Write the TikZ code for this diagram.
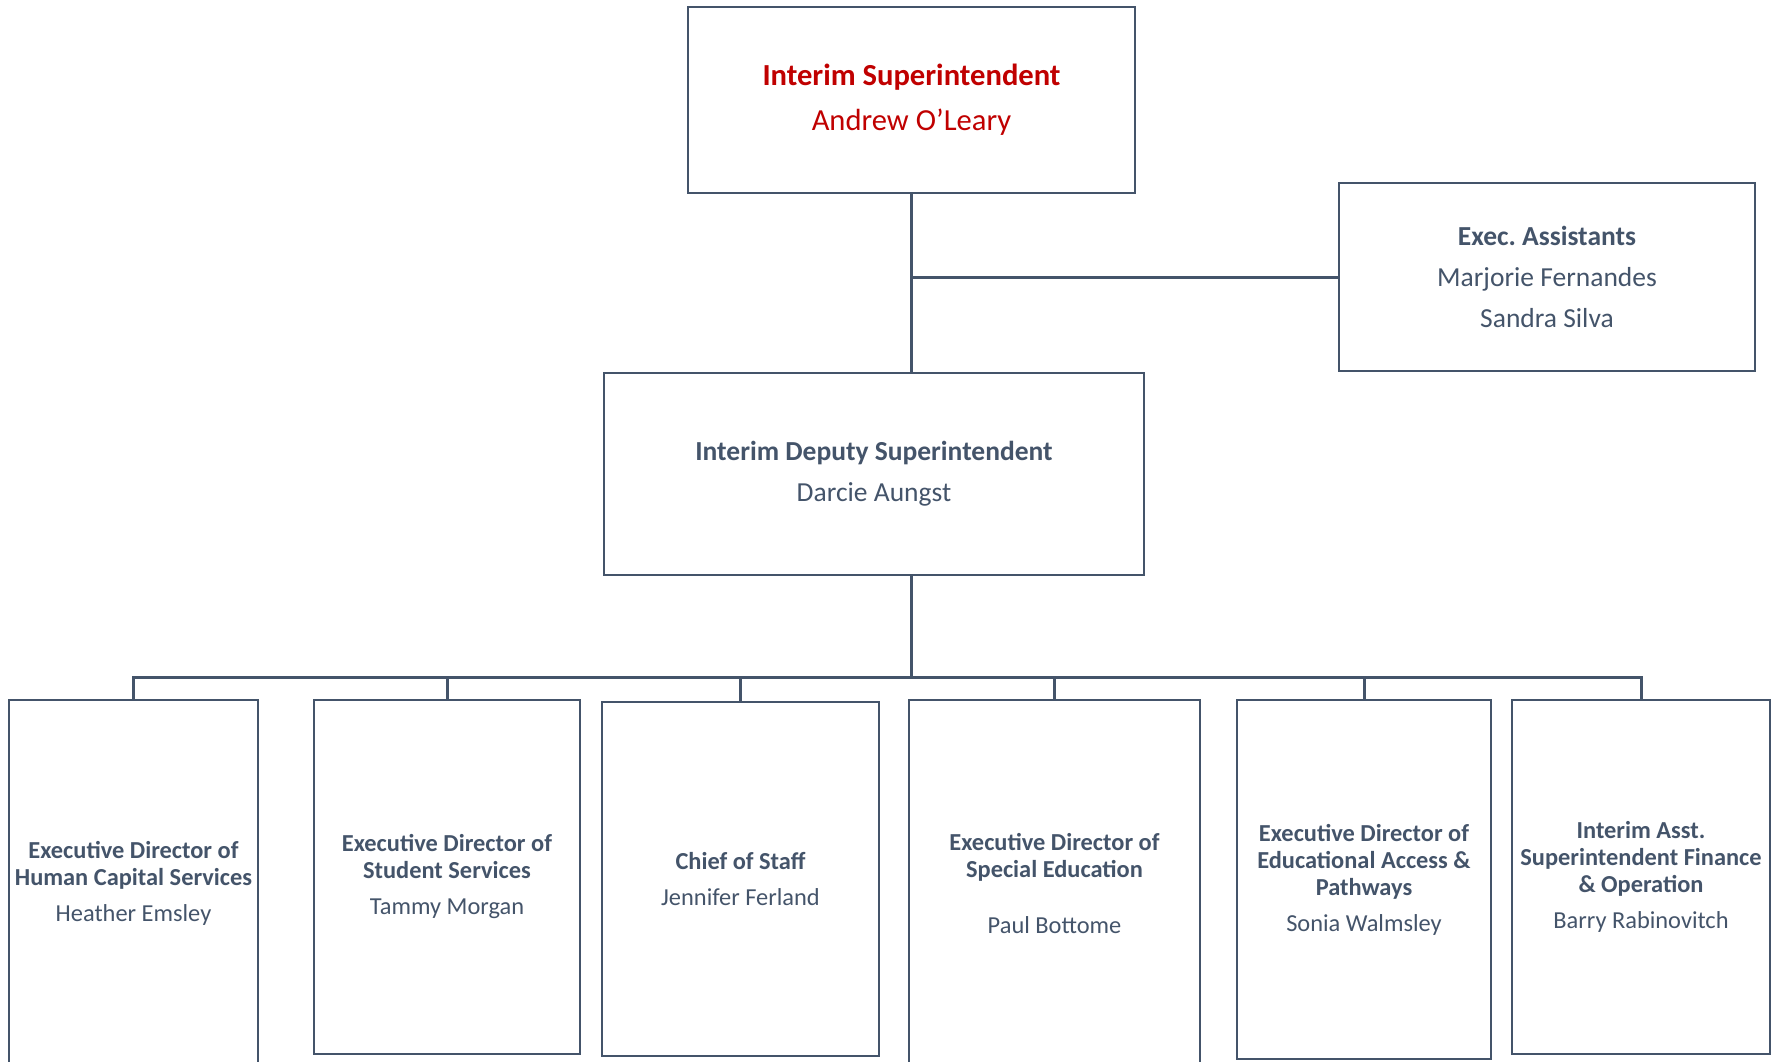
\documentclass[tikz,border=0pt]{standalone}
\usepackage{fontspec}
\setmainfont{Carlito}
\frenchspacing
\usetikzlibrary{positioning}
\definecolor{slate}{HTML}{44546A}
\definecolor{crimson}{HTML}{C00000}
\tikzstyle{unit} = [rectangle, draw=slate, line width=2.8pt, fill=white,
text=slate, align=center, inner sep=0pt, font=\fontsize{24.4}{27}\selectfont]
\tikzstyle{chief} = [unit, text=crimson, font=\fontsize{30.6}{45}\selectfont]
\tikzstyle{aide} = [unit, font=\fontsize{27.5}{41}\selectfont]
\tikzstyle{link} = [draw=slate, line width=3pt]
\newcommand{\report}[2]{ %
  % Connect bus #1 to all units #2.
  \foreach \y in {#2} { %
    \path[link] (#1) -| (\y.north) ;%
  } ;
}

\begin{document}
\begin{tikzpicture}[x=1pt, y=-1pt]
  \clip (0,0) rectangle (1779,1061);
  \fill[white] (0,0) rectangle (1779,1061);

  \node[chief, minimum width=447pt, minimum height=186pt] (sup) at (911.5,100)
    {\textbf{Interim Superintendent}\\Andrew O’Leary};
  \node[aide, minimum width=416pt, minimum height=188pt] (assist) at (1547,277)
    {\textbf{Exec. Assistants}\\Marjorie Fernandes\\Sandra Silva};
  \node[aide, minimum width=540pt, minimum height=202pt] (deputy) at (874,474)
    {\textbf{Interim Deputy Superintendent}\\Darcie Aungst};

  \node[unit, minimum width=249pt, minimum height=366pt] (hcs) at (133.5,883)
    {\textbf{Executive Director of}\\\textbf{Human Capital Services}\\[9pt]Heather Emsley};
  \node[unit, minimum width=266pt, minimum height=354pt] (sts) at (447,877)
    {\textbf{Executive Director of}\\\textbf{Student Services}\\[9pt]Tammy Morgan};
  \node[unit, minimum width=277pt, minimum height=354pt] (cos) at (740.5,879)
    {\textbf{Chief of Staff}\\[9pt]Jennifer Ferland};
  \node[unit, minimum width=291pt, minimum height=366pt] (sped) at (1054.5,883)
    {\textbf{Executive Director of}\\\textbf{Special Education}\\[29pt]Paul Bottome};
  \node[unit, minimum width=254pt, minimum height=359pt] (eap) at (1364,879.5)
    {\textbf{Executive Director of}\\\textbf{Educational Access \&}\\\textbf{Pathways}\\[9pt]Sonia Walmsley};
  \node[unit, minimum width=258pt, minimum height=354pt] (fin) at (1641,877)
    {\textbf{Interim Asst.}\\\textbf{Superintendent Finance}\\\textbf{\& Operation}\\[9pt]Barry Rabinovitch};

  \coordinate (bus) at (911.5,677);

  \path[link] (sup.south) -- (sup.south |- deputy.north);
  \path[link] (assist.west) -- (assist.west -| sup.south);
  \path[link] (sup.south |- deputy.south) -- (bus);
  \report{bus}{hcs,sts,cos,sped,eap,fin}
\end{tikzpicture}
\end{document}
